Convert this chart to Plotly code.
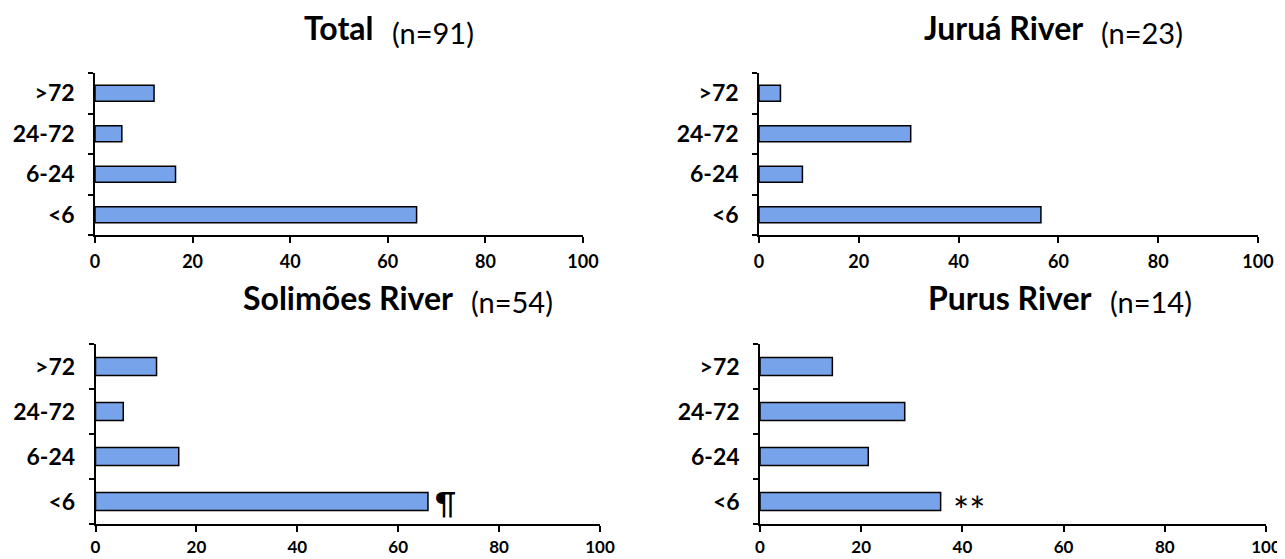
import plotly.graph_objects as go

categories = ["<6", "6-24", "24-72", ">72"]
total_vals = [65.9, 16.5, 5.5, 12.1]
jurua_vals = [56.5, 8.7, 30.4, 4.3]
solimoes_vals = [65.9, 16.5, 5.5, 12.1]
purus_vals = [35.7, 21.4, 28.6, 14.3]
x_ticks = [0, 20, 40, 60, 80, 100]

panels = [
    ("Total", "(n=91)", total_vals),
    ("Juruá River", "(n=23)", jurua_vals),
    ("Solimões River", "(n=54)", solimoes_vals),
    ("Purus River", "(n=14)", purus_vals),
]

PAGE_W, PAGE_H = 1285, 559
OFF = 8  # default page body margin
W, H = PAGE_W - OFF, PAGE_H - OFF
# pixel boxes in page coords: (x0, x1, ytop, ybottom)
boxes = [
    (95, 583, 73, 235),
    (759, 1258, 73, 235),
    (95.5, 600, 344, 524),
    (760, 1266, 344, 524),
]
# title positions in page coords: (bold right edge x, center y)
title_pos = [
    (376, 28),
    (1085, 28),
    (455, 297),
    (1094, 297),
]
standoffs = [4, 4, 1, 1]

FONT = "Lato"
BAR_COLOR = "#76a3e9"

fig = go.Figure()
annotations = []
for i, ((name, nlab, vals), (x0, x1, yt, yb), (tx, ty)) in enumerate(zip(panels, boxes, title_pos)):
    k = "" if i == 0 else str(i + 1)
    fig.add_trace(go.Bar(
        x=vals, y=categories, orientation="h", width=0.4,
        marker=dict(color=BAR_COLOR, line=dict(color="black", width=1.5)),
        xaxis="x" + k, yaxis="y" + k, showlegend=False,
    ))
    xd = [(x0 - OFF) / W, (x1 - OFF) / W]
    yd = [(H - (yb - OFF)) / H, (H - (yt - OFF)) / H]
    fig.update_layout(**{
        "xaxis" + k: dict(
            domain=xd, range=[0, 100], tickvals=x_ticks, ticks="outside",
            ticklen=6, tickwidth=1.5, tickcolor="black", showline=True,
            linecolor="black", linewidth=1.5, showgrid=False, zeroline=False,
            anchor="y" + k, ticklabelstandoff=standoffs[i], automargin=False,
            tickfont=dict(family=FONT, size=17 if i >= 2 else 18,
                          color="black", weight="bold"),
        ),
        "yaxis" + k: dict(
            domain=yd, type="category", categoryorder="array",
            categoryarray=categories, range=[-0.5, 3.5], ticks="outside",
            tickson="boundaries", ticklen=5, tickwidth=1.5, tickcolor="black",
            showline=True, linecolor="black", linewidth=1.5, showgrid=False,
            zeroline=False, anchor="x" + k, ticklabelstandoff=14, automargin=False,
            tickfont=dict(family=FONT, size=23, color="black", weight="bold"),
        ),
    })
    annotations.append(dict(
        text="<b>%s</b>" % name, x=(tx - OFF) / W, y=(H - (ty - OFF)) / H,
        xref="paper", yref="paper",
        xanchor="right", yanchor="middle", showarrow=False,
        font=dict(family=FONT, size=32, color="black"),
    ))
    annotations.append(dict(
        text=nlab, x=(tx + 14 - OFF) / W, y=(H - (ty + 4 - OFF)) / H,
        xref="paper", yref="paper",
        xanchor="left", yanchor="middle", showarrow=False,
        font=dict(family=FONT, size=29, color="black"),
    ))

annotations.append(dict(
    text="¶", x=solimoes_vals[0] + 1, y=categories[0], xref="x3", yref="y3",
    xanchor="left", yanchor="middle", showarrow=False,
    font=dict(family=FONT, size=30, color="black"),
))
annotations.append(dict(
    text="**", x=purus_vals[0] + 2, y=categories[0], xref="x4", yref="y4",
    xanchor="left", yanchor="middle", showarrow=False, yshift=-8,
    font=dict(family=FONT, size=38, color="black"),
))

fig.update_layout(
    width=W, height=H, margin=dict(l=0, r=0, t=0, b=0),
    paper_bgcolor="white", plot_bgcolor="white",
    annotations=annotations, bargap=0.6,
)
fig.write_html("out.html")
